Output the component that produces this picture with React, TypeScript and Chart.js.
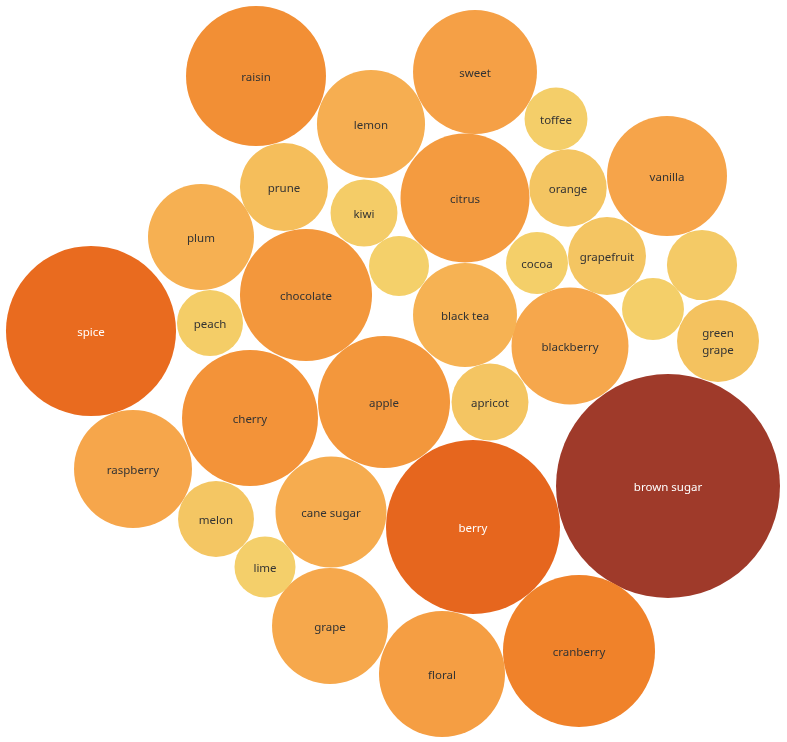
import React, { useEffect, useRef } from "react";
import { Chart, registerables } from "chart.js";

Chart.register(...registerables);

// Flavor categories of the packed bubbles
const labels: string[] = [
  "brown sugar", "berry", "spice", "cranberry", "raisin", "cherry", "chocolate", "apple",
  "citrus", "floral", "sweet", "vanilla", "raspberry", "blackberry", "grape", "cane sugar",
  "lemon", "plum", "black tea", "prune", "green grape", "grapefruit", "orange", "apricot",
  "melon", "", "kiwi", "peach", "toffee", "cocoa", "", "lime", "",
];
// Measure (drives bubble size & colour)
const values: number[] = [
  125.4, 75.7, 72.3, 57.8, 49, 46.2, 43.6, 43.6,
  41.6, 39.7, 38.4, 36, 34.8, 34.2, 33.6, 30.8,
  29.2, 28.1, 27, 19.4, 16.8, 15.2, 15, 14.8,
  14.4, 12.3, 11.2, 10.9, 9.9, 9.6, 9.6, 9.3, 9,
];
// Packed layout coordinates (data units)
const xs: number[] = [
  668, 473, 91, 579, 256, 250, 306, 384,
  465, 442, 475, 667, 133, 570, 330, 331,
  371, 201, 465, 284, 718, 607, 568, 490,
  216, 702, 364, 210, 556, 537, 653, 265, 399,
];
const ys: number[] = [
  486, 527, 331, 651, 76, 418, 295, 402,
  198, 674, 72, 176, 469, 346, 626, 512,
  124, 237, 315, 187, 341, 256, 188, 402,
  519, 265, 213, 323, 119, 263, 309, 567, 266,
];

const colorStops: [number, string][] = [
  [9, "#F4D06A"],
  [15, "#F4C562"],
  [20, "#F5BD5A"],
  [28, "#F6B052"],
  [36, "#F6A44A"],
  [45, "#F3953A"],
  [58, "#F0822A"],
  [74, "#E8681E"],
  [125, "#9F3A2A"],
];

function hexToRgb(h: string): number[] {
  const n = parseInt(h.slice(1), 16);
  return [(n >> 16) & 255, (n >> 8) & 255, n & 255];
}

function colorFor(v: number): string {
  if (v <= colorStops[0][0]) return colorStops[0][1];
  for (let i = 1; i < colorStops.length; i++) {
    if (v <= colorStops[i][0]) {
      const [v0, c0] = colorStops[i - 1];
      const [v1, c1] = colorStops[i];
      const t = (v - v0) / (v1 - v0);
      const a = hexToRgb(c0);
      const b = hexToRgb(c1);
      const m = a.map((x, k) => Math.round(x + (b[k] - x) * t));
      return `rgb(${m[0]},${m[1]},${m[2]})`;
    }
  }
  return colorStops[colorStops.length - 1][1];
}

const labelPlugin = {
  id: "bubbleLabels",
  afterDatasetsDraw(chart: any) {
    const ctx = chart.ctx;
    const meta = chart.getDatasetMeta(0);
    ctx.save();
    ctx.font = '11.5px "Noto Sans", sans-serif';
    ctx.textAlign = "center";
    ctx.textBaseline = "middle";
    meta.data.forEach((el: any, i: number) => {
      const text = labels[i];
      if (!text) return;
      ctx.fillStyle = values[i] >= 70 ? "#ffffff" : "#333333";
      const words = text === "green grape" ? ["green", "grape"] : [text];
      const lh = 17;
      words.forEach((w, k) => {
        ctx.fillText(w, el.x, el.y + 1.5 + (k - (words.length - 1) / 2) * lh);
      });
    });
    ctx.restore();
  },
};

const W = 787;
const H = 742;
const PAD = 130;

export default function App() {
  const ref = useRef<HTMLCanvasElement | null>(null);
  useEffect(() => {
    document.body.style.margin = "0";
    if (!ref.current) return;
    const chart: any = new Chart(ref.current, {
      type: "bubble",
      data: {
        datasets: [
          {
            data: labels.map((_, i) => ({ x: xs[i], y: ys[i], r: Math.sqrt(values[i]) * 10 })),
            backgroundColor: values.map(colorFor),
            borderWidth: 0,
          },
        ],
      },
      options: {
        responsive: false,
        animation: false,
        layout: { padding: 0 },
        plugins: { legend: { display: false }, tooltip: { enabled: false } },
        scales: {
          x: { type: "linear", min: 0, max: W, display: false },
          y: { type: "linear", min: 0, max: H, reverse: true, display: false },
        },
      },
      plugins: [labelPlugin],
    });
    // make one data unit equal one pixel on the visible page
    const a = chart.chartArea;
    chart.options.scales.x.min = a.left - PAD;
    chart.options.scales.x.max = a.right - PAD;
    chart.options.scales.y.min = a.top - PAD;
    chart.options.scales.y.max = a.bottom - PAD;
    chart.update();
    return () => chart.destroy();
  }, []);
  return (
    <div style={{ position: "relative", width: W, height: H, overflow: "hidden" }}>
      <canvas
        ref={ref}
        width={W + 2 * PAD}
        height={H + 2 * PAD}
        style={{ position: "absolute", left: -PAD, top: -PAD, display: "block" }}
      />
    </div>
  );
}
